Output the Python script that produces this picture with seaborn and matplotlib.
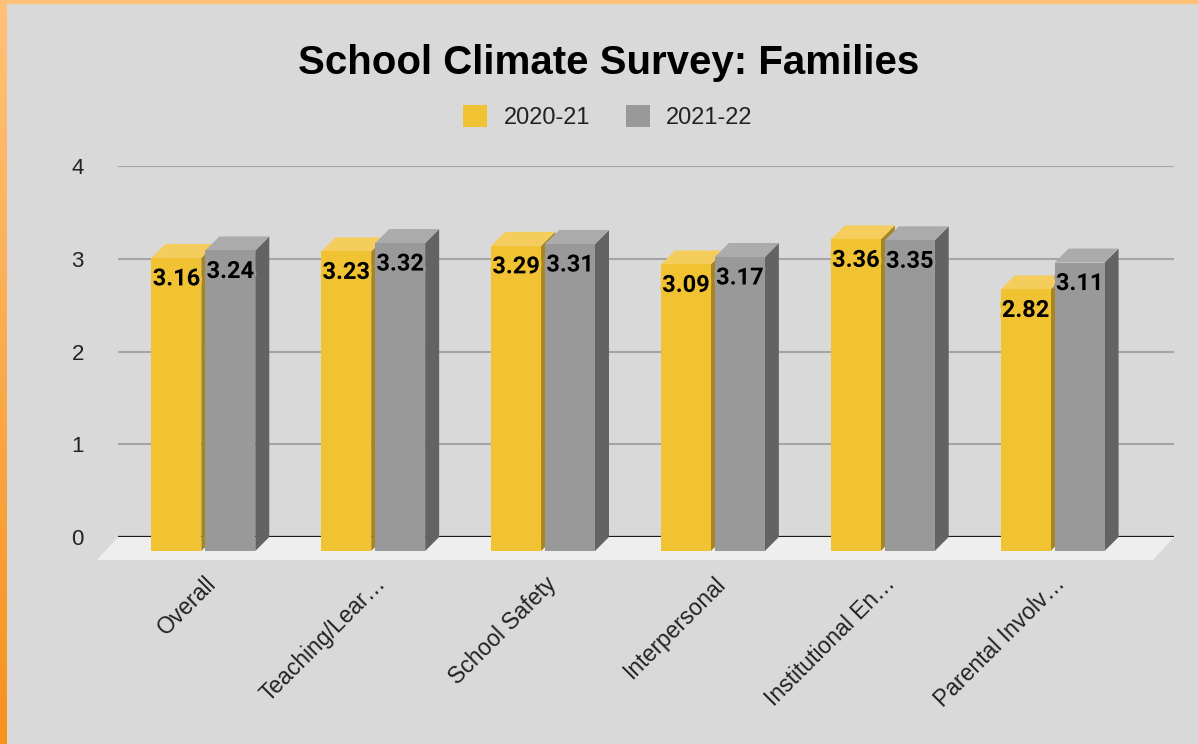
import numpy as np
import pandas as pd
import matplotlib
matplotlib.use("Agg")
import matplotlib.pyplot as plt
import seaborn as sns
from matplotlib.patches import Polygon, Rectangle, Patch
import matplotlib.patheffects as pe
from matplotlib.colors import LinearSegmentedColormap

# ---------------- data ----------------
categories = ["Overall", "Teaching/Lear\u2026", "School Safety", "Interpersonal",
              "Institutional En\u2026", "Parental Involv\u2026"]
years = ["2020-21", "2021-22"]
values_2020_21 = [3.16, 3.23, 3.29, 3.09, 3.36, 2.82]
values_2021_22 = [3.24, 3.32, 3.31, 3.17, 3.35, 3.11]
y_ticks = [0, 1, 2, 3, 4]
title = "School Climate Survey: Families"

# ---------------- style ----------------
FRONT = {"2020-21": "#f1c232", "2021-22": "#999999"}
TOP = {"2020-21": "#f4cd5c", "2021-22": "#ababab"}
SIDE = {"2020-21": "#a68522", "2021-22": "#636363"}
BG = "#d9d9d9"

plt.rcParams["font.family"] = ["Liberation Sans", "DejaVu Sans"]

W, H, DPI = 1198, 744, 100
fig = plt.figure(figsize=(W / DPI, H / DPI), dpi=DPI, facecolor=BG)

# orange frame (left gradient strip + top strip)
bax = fig.add_axes([0, 0, 7 / W, 1])
bax.axis("off")
cmap = LinearSegmentedColormap.from_list("o", ["#ffc278", "#f7921c"])
bax.imshow(np.linspace(0, 1, 256).reshape(-1, 1), aspect="auto", cmap=cmap,
           extent=[0, 1, 0, 1])
fig.add_artist(Rectangle((0, 1 - 3 / H), 1, 3 / H, transform=fig.transFigure,
                         color="#ffc07a", zorder=5))

# main axes
L_PX, R_PX, Y0_PX, Y4_PX = 118, 1174, 537, 166
ax = fig.add_axes([L_PX / W, (H - Y0_PX) / H, (R_PX - L_PX) / W, (Y0_PX - Y4_PX) / H])
ax.set_facecolor("none")

df = pd.DataFrame({
    "category": categories * 2,
    "year": [years[0]] * len(categories) + [years[1]] * len(categories),
    "score": values_2020_21 + values_2021_22,
})

sns.barplot(data=df, x="category", y="score", hue="year", order=categories,
            hue_order=years, palette=[FRONT[y] for y in years], width=0.635,
            gap=0.074, saturation=1, legend=False, errorbar=None, ax=ax)

XL, XR = -0.585, 5.632
ax.set_xlim(XL, XR)
ax.set_ylim(0, 4)

ppx = (R_PX - L_PX) / (XR - XL)
ppy = (Y0_PX - Y4_PX) / 4.0
dx, dy = 14 / ppx, 14 / ppy

for j, cont in enumerate(ax.containers):
    yr = years[j]
    z = 3 + j
    for bar in cont:
        x0, w, h = bar.get_x(), bar.get_width(), bar.get_height()
        side = [(x0 - dx + w, -dy), (x0 + w, 0), (x0 + w, h), (x0 - dx + w, h - dy)]
        top = [(x0 - dx, h - dy), (x0 - dx + w, h - dy), (x0 + w, h), (x0, h)]
        ax.add_patch(Polygon(side, closed=True, fc=SIDE[yr], ec="none",
                             zorder=z, clip_on=False))
        ax.add_patch(Polygon(top, closed=True, fc=TOP[yr], ec="none",
                             zorder=z + 0.1, clip_on=False))
        bar.set_x(x0 - dx)
        bar.set_y(-dy)
        bar.set_zorder(z + 0.2)
        bar.set_clip_on(False)
        bar.set_linewidth(0)
        bar.set_edgecolor("none")
        ax.annotate(f"{h:.2f}", xy=(x0 + w / 2, h), xytext=(-14, -35),
                    textcoords="offset pixels", ha="center", va="center",
                    fontsize=17, fontweight="bold", family=["Roboto", "DejaVu Sans"],
                    color="black", zorder=10,
                    path_effects=[pe.withStroke(linewidth=4, foreground=FRONT[yr])])

# floor
fdx, fdy = 21 / ppx, 23 / ppy
ax.add_patch(Polygon([(XL, 0), (XR, 0), (XR - fdx, -fdy), (XL - fdx, -fdy)],
                     closed=True, fc="#eeeeee", ec="none", zorder=1, clip_on=False))
ax.axhline(0, color="#1a1a1a", lw=1.6, zorder=2)

ax.set_yticks(y_ticks)
ax.grid(axis="y", color="#a5a5a5", lw=1.5)
ax.grid(axis="x", visible=False)
ax.set_axisbelow(True)
for s in ax.spines.values():
    s.set_visible(False)
ax.set_xlabel("")
ax.set_ylabel("")
ax.tick_params(axis="y", length=0, pad=24.5, labelsize=16, labelcolor="#222222")
ax.set_xticks(range(len(categories)))
ax.set_xticklabels(categories, rotation=45, ha="right", va="baseline",
                   rotation_mode="anchor", fontsize=16.5, color="#222222")
ax.tick_params(axis="x", length=0, pad=34.5)

fig.text(608.5 / W, 1 - 74 / H, title, ha="center", va="baseline",
         fontsize=29, fontweight="bold", color="black")

handles = [Patch(fc=FRONT[y], ec="none") for y in years]
fig.legend(handles=handles, labels=years, loc="center",
           bbox_to_anchor=(608 / W, 1 - 117 / H), ncol=2, frameon=False,
           fontsize=17, handlelength=1.02, handleheight=1.02, handletextpad=0.68,
           columnspacing=1.53, labelcolor="#222222")

fig.savefig("out.png", dpi=DPI, facecolor=fig.get_facecolor())
